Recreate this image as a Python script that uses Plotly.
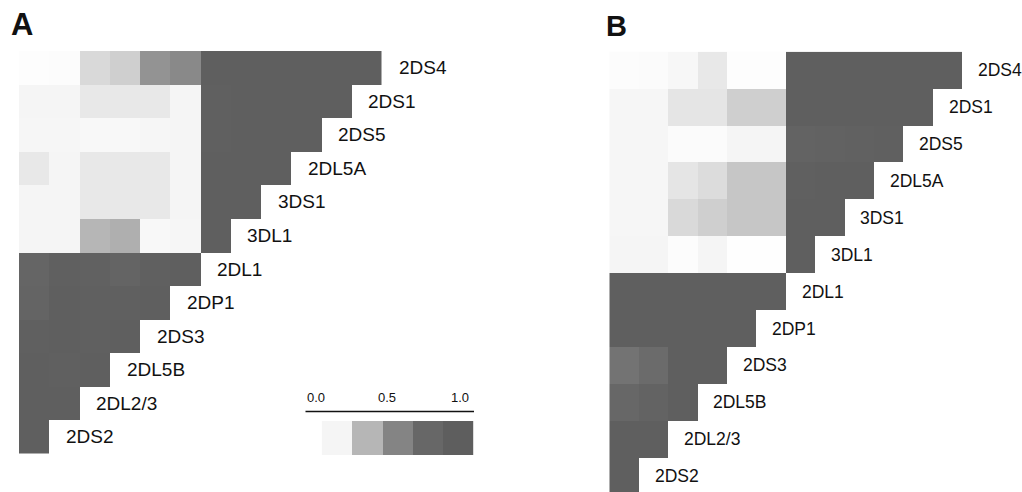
import plotly.graph_objects as go

W, H = 1022, 492

loci = ["2DS4", "2DS1", "2DS5", "2DL5A", "3DS1", "3DL1",
        "2DL1", "2DP1", "2DS3", "2DL5B", "2DL2/3", "2DS2"]

# Panel A: row i lists values against loci in reverse order (2DS2 ... ), ending at itself
a_rows = [
    [0.02, 0.03, 0.19, 0.22, 0.44, 0.48, 0.88, 0.88, 0.88, 0.88, 0.88, 0.88],
    [0.10, 0.10, 0.14, 0.14, 0.14, 0.10, 0.86, 0.88, 0.88, 0.88, 0.88],
    [0.09, 0.09, 0.07, 0.07, 0.09, 0.10, 0.86, 0.87, 0.88, 0.88],
    [0.14, 0.10, 0.14, 0.14, 0.14, 0.10, 0.87, 0.88, 0.88],
    [0.10, 0.10, 0.14, 0.14, 0.14, 0.10, 0.88, 0.88],
    [0.10, 0.10, 0.30, 0.33, 0.07, 0.09, 0.88],
    [0.75, 0.86, 0.83, 0.77, 0.86, 0.88],
    [0.77, 0.88, 0.86, 0.86, 0.88],
    [0.86, 0.88, 0.86, 0.88],
    [0.87, 0.86, 0.88],
    [0.87, 0.88],
    [0.88],
]

# Panel B
b_rows = [
    [0.03, 0.04, 0.08, 0.14, 0.02, 0.02, 0.88, 0.88, 0.88, 0.88, 0.88, 0.88],
    [0.09, 0.09, 0.15, 0.15, 0.22, 0.22, 0.87, 0.88, 0.88, 0.88, 0.88],
    [0.09, 0.09, 0.04, 0.04, 0.10, 0.10, 0.80, 0.82, 0.84, 0.86],
    [0.09, 0.09, 0.15, 0.18, 0.25, 0.25, 0.86, 0.87, 0.88],
    [0.09, 0.09, 0.19, 0.22, 0.25, 0.25, 0.88, 0.88],
    [0.10, 0.10, 0.03, 0.10, 0.01, 0.01, 0.88],
    [0.88, 0.88, 0.88, 0.88, 0.88, 0.88],
    [0.88, 0.88, 0.88, 0.88, 0.88],
    [0.62, 0.67, 0.88, 0.88],
    [0.70, 0.79, 0.88],
    [0.88, 0.88],
    [0.88],
]

legend_levels = [0.1, 0.3, 0.5, 0.7, 0.9]
legend_ticks = ["0.0", "0.5", "1.0"]

colorscale = [
    [0.0, "#ffffff"], [0.1, "#f5f5f5"], [0.3, "#b6b6b6"], [0.5, "#848484"],
    [0.7, "#676767"], [0.9, "#5e5e5e"], [1.0, "#5a5a5a"],
]

n = len(loci)


def pad(rows):
    return [r + [None] * (n - len(r)) for r in rows]


cols = list(range(n))
rws = list(range(n))

fig = go.Figure()
fig.add_trace(go.Heatmap(z=pad(a_rows), x=cols, y=rws, colorscale=colorscale,
                         zmin=0, zmax=1, showscale=False, xaxis="x", yaxis="y",
                         hoverongaps=False))
fig.add_trace(go.Heatmap(z=pad(b_rows), x=cols, y=rws, colorscale=colorscale,
                         zmin=0, zmax=1, showscale=False, xaxis="x2", yaxis="y2",
                         hoverongaps=False))
fig.add_trace(go.Heatmap(z=[legend_levels], x=legend_levels, y=[0], colorscale=colorscale,
                         zmin=0, zmax=1, showscale=False, xaxis="x3", yaxis="y3"))

ax_common = dict(showgrid=False, zeroline=False, showticklabels=False, ticks="",
                 showline=False, fixedrange=True)

fig.update_layout(
    width=W, height=H,
    margin=dict(l=0, r=0, t=0, b=0),
    paper_bgcolor="white", plot_bgcolor="rgba(0,0,0,0)",
    font=dict(family="Liberation Sans, Arial, sans-serif", color="#111111"),
    showlegend=False,
    xaxis=dict(domain=[19 / W, 381.5 / W], range=[-0.5, n - 0.5], **ax_common),
    yaxis=dict(domain=[1 - 453.6 / H, 1 - 51 / H], range=[n - 0.5, -0.5], **ax_common),
    xaxis2=dict(domain=[609.3 / W, 962 / W], range=[-0.5, n - 0.5], anchor="y2", **ax_common),
    yaxis2=dict(domain=[0, 1 - 51.7 / H], range=[n - 0.57, -0.5], anchor="x2", **ax_common),
    xaxis3=dict(domain=[321.7 / W, 473.3 / W], range=[0, 1], anchor="y3", **ax_common),
    yaxis3=dict(domain=[1 - 455 / H, 1 - 421 / H], range=[-0.5, 0.5], anchor="x3", **ax_common),
)

ann = []
for i, name in enumerate(loci):
    ann.append(dict(x=len(a_rows[i]) - 0.5, y=i, xref="x", yref="y", text=name,
                    showarrow=False, xanchor="left", yanchor="middle", xshift=15,
                    font=dict(size=19, color="#111111")))
    ann.append(dict(x=len(b_rows[i]) - 0.5, y=i, xref="x2", yref="y2", text=name,
                    showarrow=False, xanchor="left", yanchor="middle", xshift=14,
                    font=dict(size=17.5, color="#111111")))

ann.append(dict(x=9 / W, y=1 - 24 / H, xref="paper", yref="paper", text="<b>A</b>",
                showarrow=False, xanchor="left", yanchor="middle",
                font=dict(size=31, color="#111111")))
ann.append(dict(x=604 / W, y=1 - 26 / H, xref="paper", yref="paper", text="<b>B</b>",
                showarrow=False, xanchor="left", yanchor="middle",
                font=dict(size=29, color="#111111")))

for txt, px in zip(legend_ticks, [316, 387, 460]):
    ann.append(dict(x=px / W, y=1 - 397 / H, xref="paper", yref="paper", text=txt,
                    showarrow=False, xanchor="center", yanchor="middle",
                    font=dict(size=13, color="#111111")))

fig.update_layout(annotations=ann)
fig.add_shape(type="line", xref="paper", yref="paper",
              x0=305.5 / W, x1=474 / W, y0=1 - 411.5 / H, y1=1 - 411.5 / H,
              line=dict(color="#111111", width=1.5))

fig.write_html("out.html", config={"displayModeBar": False},
               post_script="document.body.style.margin='0';document.body.style.overflow='hidden';")
